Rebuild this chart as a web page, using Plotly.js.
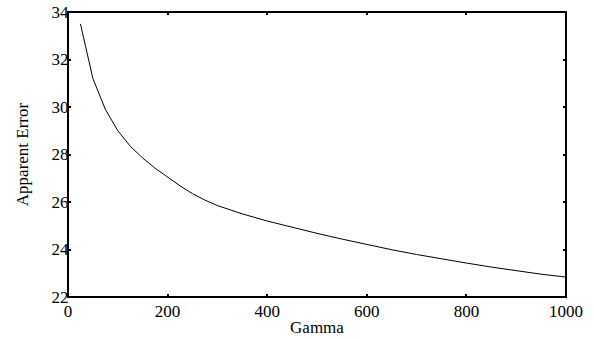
<!DOCTYPE html>
<html>
<head>
<meta charset="utf-8">
<script src="https://cdn.plot.ly/plotly-3.0.1.min.js"></script>
<style>html,body{margin:0;padding:0;background:#fff;}#chart{width:594px;height:339px;}</style>
</head>
<body>
<div id="chart"></div>
<script>
const gamma = [25, 50, 75, 100, 125, 150, 175, 200, 225, 250, 275, 300, 350, 400, 450, 500, 550, 600, 650, 700, 750, 800, 850, 900, 950, 1000];
const apparentError = [33.5, 31.2, 29.9, 29.0, 28.35, 27.85, 27.42, 27.05, 26.68, 26.35, 26.08, 25.85, 25.5, 25.2, 24.93, 24.68, 24.44, 24.21, 23.99, 23.79, 23.6, 23.43, 23.26, 23.1, 22.96, 22.84];
const xTicks = [0, 200, 400, 600, 800, 1000];
const yTicks = [22, 24, 26, 28, 30, 32, 34];

const font = {family: 'Liberation Serif, Times New Roman, serif', size: 17, color: '#000'};

Plotly.newPlot('chart', [{
  x: gamma, y: apparentError, type: 'scatter', mode: 'lines',
  line: {color: '#000', width: 1}
}], {
  width: 594, height: 339,
  margin: {l: 68, r: 28, t: 12, b: 42, pad: 0},
  paper_bgcolor: '#fff', plot_bgcolor: '#fff',
  showlegend: false,
  font: font,
  shapes: [{type: 'rect', xref: 'paper', yref: 'paper', x0: 0, x1: 1, y0: 0, y1: 1,
            line: {color: '#000000', width: 2}, layer: 'above'}],
  xaxis: {
    range: [0, 1000], tickvals: xTicks, ticktext: xTicks.map(String),
    showgrid: false, zeroline: false, showline: true, linecolor: '#000000', linewidth: 1,
    mirror: 'ticks', ticks: 'inside', ticklen: 3, tickwidth: 2, tickcolor: '#000',
    tickfont: font, ticklabelstandoff: -1,
    title: {text: 'Gamma', font: font, standoff: 0}
  },
  yaxis: {
    range: [22, 34], tickvals: yTicks, ticktext: yTicks.map(String),
    showgrid: false, zeroline: false, showline: true, linecolor: '#000000', linewidth: 1,
    mirror: 'ticks', ticks: 'inside', ticklen: 3, tickwidth: 2, tickcolor: '#000',
    tickfont: font, ticklabelstandoff: -5,
    title: {text: 'Apparent Error', font: font, standoff: 18}
  }
}, {displayModeBar: false, staticPlot: true});
</script>
</body>
</html>
